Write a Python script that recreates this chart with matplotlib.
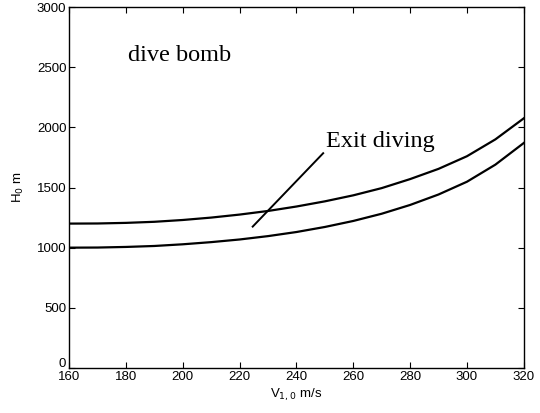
import numpy as np
import matplotlib.pyplot as plt
import matplotlib.transforms as mtransforms

# speed V_1,0 (m/s) and entry height H_0 (m)
v = [160, 170, 180, 190, 200, 210, 220, 230, 240, 250, 260, 270, 280, 290, 300, 310, 320]
h_upper = [1200, 1201, 1206, 1215, 1230, 1250, 1275, 1305, 1342, 1385, 1435, 1495, 1570, 1655, 1760, 1900, 2075]
h_lower = [1000, 1001, 1006, 1014, 1028, 1046, 1068, 1096, 1130, 1172, 1222, 1282, 1355, 1442, 1548, 1690, 1870]

# leader line for the "Exit diving" note
leader_x = [224.6, 249.4]
leader_y = [1175, 1785]

plt.rcParams['font.family'] = ['Liberation Sans', 'DejaVu Sans']

fig = plt.figure(figsize=(5.4, 4.13), dpi=100)
ax = fig.add_axes([0.128, 0.109, 0.842, 0.874])

ax.plot(v, h_upper, color='black', lw=1.6)
ax.plot(v, h_lower, color='black', lw=1.6)
ax.plot(leader_x, leader_y, color='black', lw=1.4)

ax.text(180.7, 2600, 'dive bomb', fontsize=17.5, family='Liberation Serif', va='center')
ax.text(250.4, 1880, 'Exit diving', fontsize=17.5, family='Liberation Serif', va='center')

ax.set_xlim(160, 320)
ax.set_ylim(0, 3000)
ax.set_xticks(np.arange(160, 321, 20))
ax.set_yticks(np.arange(0, 3001, 500))
ax.tick_params(direction='in', top=True, right=True, labelsize=9.5, length=4, pad=2)
for s in ax.spines.values():
    s.set_linewidth(1.0)

ax.set_xlabel('V$_{1,0}$ m/s', fontsize=9.5, labelpad=3)
ax.set_ylabel('H$_0$ m', fontsize=9.5, labelpad=8)

# nudge the "0" label up a little so it clears "160" as in the original
zero_label = ax.get_yticklabels()[0]
zero_label.set_transform(zero_label.get_transform() +
                         mtransforms.ScaledTranslation(0, 4 / 72, fig.dpi_scale_trans))

fig.savefig('out.png', dpi=100)
